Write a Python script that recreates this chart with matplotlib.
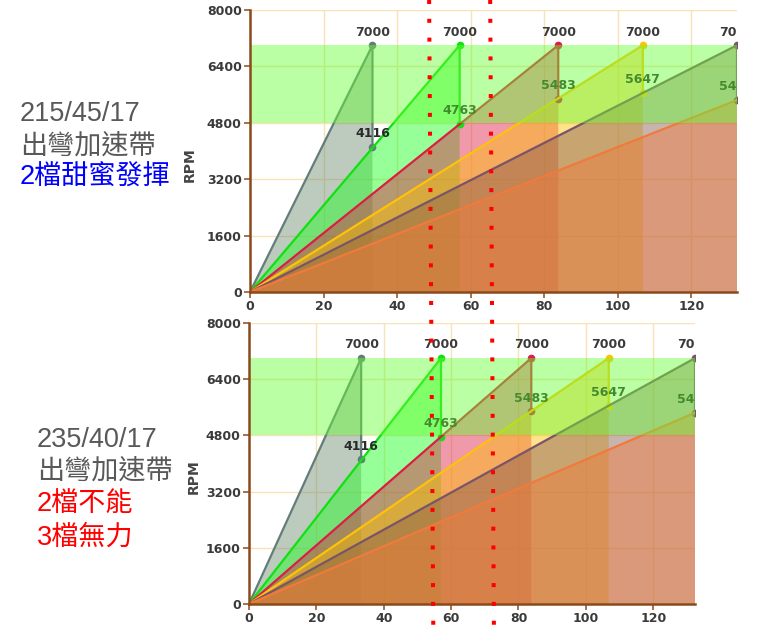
import matplotlib
matplotlib.use('Agg')
import matplotlib.pyplot as plt
from matplotlib.lines import Line2D


# speed (km/h) at which each gear hits the 7000 rpm shift point
gears = ['1st', '2nd', '3rd', '4th', '5th', '6th']
shift_speed = [33.3, 57.0, 83.8, 106.8, 132.4, 170.2]
shift_rpm = 7000
# rpm of the next gear right after each upshift
drop_rpm = [4116, 4763, 5483, 5647, 5445]

band_rpm = (4800, 7000)
yticks = [0, 1600, 3200, 4800, 6400, 8000]
xticks = [0, 20, 40, 60, 80, 100, 120]

# red dotted marks: speed where they leave the top chart (figure top) and the bottom chart (figure bottom)
mark_top = [48.7, 65.3]
mark_bottom = [54.7, 72.7]

top_title = '215/45/17'
top_lines = [('出彎加速帶', '#595959'), ('2檔甜蜜發揮', '#0000ff')]
bottom_title = '235/40/17'
bottom_lines = [('出彎加速帶', '#595959'), ('2檔不能', '#ff0000'), ('3檔無力', '#ff0000')]

line_colors = ['#637d7b', '#11e011', '#dc1e46', '#ffc20a', '#7a5468', '#f07a3c']
fill_colors = ['#6e8a70', '#1aff1a', '#dc1e46', '#ffc000', '#86594e', '#f07a3c']
BROWN = '#8b4a1c'
W, H = 780, 625
CJK = ['Liberation Sans', 'Noto Sans CJK TC', 'DejaVu Sans']


def px(x, y):
    return x / W, 1 - y / H


def draw_chart(ax):
    for i, v in enumerate(shift_speed):
        xs = [0, v]
        ys = [0, shift_rpm]
        if i < len(drop_rpm):
            xs.append(v)
            ys.append(drop_rpm[i])
        ax.fill(xs + [v], ys + [0], color=fill_colors[i], alpha=0.45, lw=0, zorder=2)
        ax.plot(xs, ys, color=line_colors[i], lw=1.6, marker='o', ms=4.5,
                mec=line_colors[i], zorder=3)
        ax.annotate(str(shift_rpm), (v, shift_rpm), xytext=(0, 9.5), textcoords='offset points',
                    ha='center', va='center', fontsize=9, fontweight='bold', color='#3a3a3a',
                    annotation_clip=False, clip_on=True, zorder=4)
        if i < len(drop_rpm):
            ax.annotate(str(drop_rpm[i]), (v, drop_rpm[i]), xytext=(0, 9.5),
                        textcoords='offset points', ha='center', va='center',
                        fontsize=9, fontweight='bold', color='#2a2a2a',
                        annotation_clip=False, clip_on=True, zorder=4)

    ax.axhspan(*band_rpm, color='#66ff33', alpha=0.45, lw=0, zorder=5)

    ax.set_xlim(0, shift_speed[4])
    ax.set_ylim(0, 8000)
    ax.set_xticks(xticks)
    ax.set_yticks(yticks)
    ax.grid(True, color='#f7e3b5', lw=1)
    ax.set_axisbelow(True)
    for s in ['top', 'right']:
        ax.spines[s].set_visible(False)
    for s in ['left', 'bottom']:
        ax.spines[s].set_color(BROWN)
        ax.spines[s].set_linewidth(1.8)
        ax.spines[s].set_zorder(6)
    ax.tick_params(colors=BROWN, labelcolor='#3a3a3a', length=4, width=1.1,
                   labelsize=9, pad=2)
    for lab in ax.get_xticklabels() + ax.get_yticklabels():
        lab.set_fontweight('bold')


fig = plt.figure(figsize=(W / 100, H / 100), dpi=100)
fig.patch.set_facecolor('white')

ax_top = fig.add_axes([250 / W, 1 - 292 / H, 487 / W, 282 / H])
ax_bot = fig.add_axes([249 / W, 1 - 604 / H, 446 / W, 281 / H])
draw_chart(ax_top)
draw_chart(ax_bot)

fig.text(*px(190, 165), 'RPM', rotation=90, ha='center', va='center',
         fontsize=10, fontweight='bold', color='#444444')
fig.text(*px(194, 477), 'RPM', rotation=90, ha='center', va='center',
         fontsize=10, fontweight='bold', color='#444444')

# tire size notes
fig.text(*px(20, 114), top_title, fontsize=19.5, color='#595959', family=CJK, va='center')
for k, (txt, col) in enumerate(top_lines):
    fig.text(*px(20, 147 + k * 31), txt, fontsize=19.5, color=col, family=CJK, va='center')
fig.text(*px(37, 440), bottom_title, fontsize=19.5, color='#595959', family=CJK, va='center')
for k, (txt, col) in enumerate(bottom_lines):
    fig.text(*px(37, 472 + k * 33), txt, fontsize=19.5, color=col, family=CJK, va='center')

# red dotted marks running across both charts
for st, sb in zip(mark_top, mark_bottom):
    x1 = ax_top.transData.transform((st, 0))[0]
    x2 = ax_bot.transData.transform((sb, 0))[0]
    fig.lines.append(Line2D([x1 / W, x2 / W], [1, 0], transform=fig.transFigure,
                            color='#ff0000', lw=2.9, linestyle=(0, (1, 3.67)),
                            dash_capstyle='butt', zorder=10))

plt.savefig('out.png', dpi=100, facecolor='white')
